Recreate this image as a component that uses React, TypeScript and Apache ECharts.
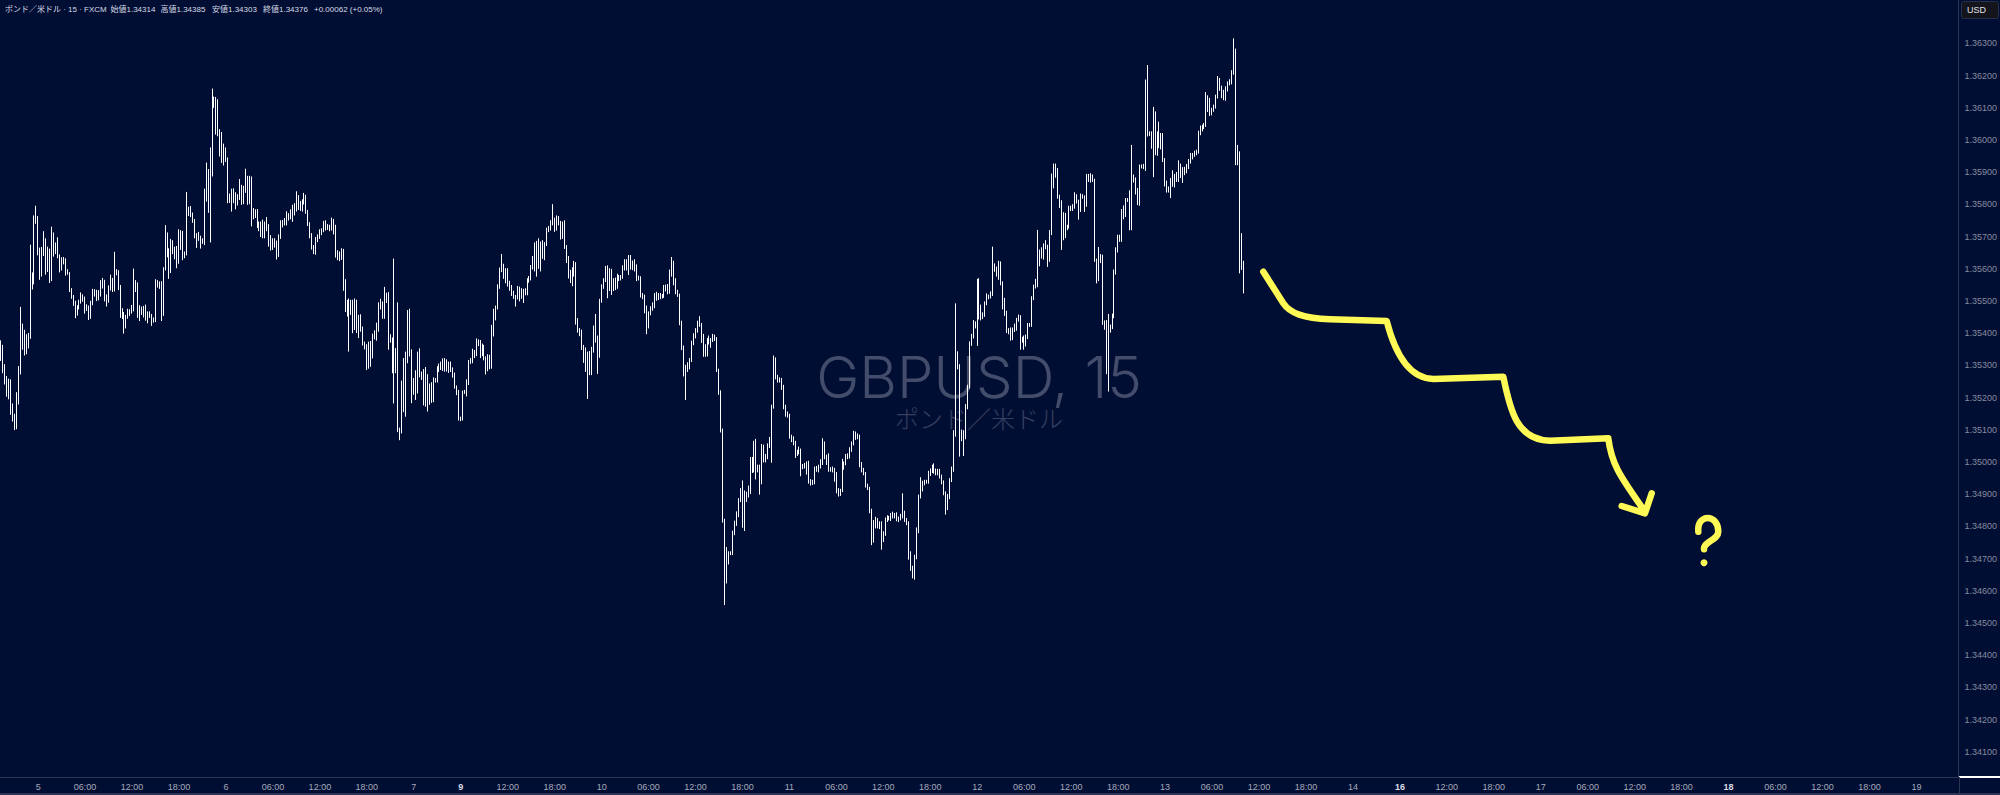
import React, { useEffect, useRef } from "react";
import * as echarts from "echarts";

const BASE_PRICE = 1.34;
const POINT = 0.00001;

const axisDates = ["5","06:00","12:00","18:00","6","06:00","12:00","18:00","7","9","12:00","18:00","10","06:00","12:00","18:00","11","06:00","12:00","18:00","12","06:00","12:00","18:00","13","06:00","12:00","18:00","14","16","12:00","18:00","17","06:00","12:00","18:00","18","06:00","12:00","18:00","19"];
const boldDates = ["9","16","18"];
const priceTicks = ["1.34100","1.34200","1.34300","1.34400","1.34500","1.34600","1.34700","1.34800","1.34900","1.35000","1.35100","1.35200","1.35300","1.35400","1.35500","1.35600","1.35700","1.35800","1.35900","1.36000","1.36100","1.36200","1.36300"];

// Closing prices of each 15-minute bar, in points above 1.34000
const closes = [
1358,1296,1255,1213,1249,1177,1146,1110,1203,1280,1420,1363,1389,1363,1389,1575,1560,1746,1756,1658,
1586,1648,1689,1596,1653,1570,1705,1658,1668,1637,1601,1622,1627,1591,1586,1534,1513,1493,1461,1482,
1498,1513,1508,1477,1482,1451,1493,1524,1529,1508,1524,1549,1560,1513,1503,1539,1560,1534,1591,1588,
1544,1472,1456,1425,1451,1462,1467,1472,1555,1550,1462,1477,1467,1477,1451,1462,1456,1439,1441,1550,
1555,1544,1462,1601,1705,1658,1601,1679,1658,1663,1622,1699,1710,1643,1648,1772,1787,1767,1751,1705,
1705,1699,1689,1684,1829,1870,1782,1927,2129,2124,2067,2020,1989,1943,1969,1938,1824,1819,1808,1824,
1813,1824,1855,1813,1844,1881,1813,1881,1762,1777,1772,1741,1725,1741,1705,1741,1731,1699,1679,1689,
1684,1643,1699,1741,1746,1741,1767,1762,1777,1772,1788,1819,1803,1788,1808,1824,1777,1741,1705,1668,
1658,1689,1699,1715,1720,1741,1725,1731,1725,1741,1731,1643,1648,1632,1658,1560,1472,1498,1467,1498,
1420,1498,1415,1451,1415,1368,1358,1296,1368,1332,1389,1389,1425,1482,1493,1451,1518,1508,1389,1379,
1306,1348,1296,1099,1099,1223,1161,1337,1462,1342,1223,1255,1223,1337,1275,1275,1192,1265,1192,1234,
1192,1255,1255,1286,1296,1306,1291,1311,1291,1306,1286,1270,1234,1218,1135,1135,1218,1218,1249,1311,
1317,1342,1337,1368,1373,1337,1358,1322,1296,1327,1296,1420,1446,1482,1544,1596,1606,1575,1596,1555,
1544,1524,1513,1513,1539,1513,1534,1524,1534,1565,1570,1606,1632,1606,1679,1606,1679,1637,1679,1720,
1725,1741,1751,1725,1756,1741,1699,1741,1668,1632,1586,1591,1586,1617,1441,1410,1399,1358,1348,1286,
1337,1280,1348,1420,1379,1332,1503,1544,1565,1601,1539,1596,1539,1565,1544,1575,1570,1575,1601,1622,
1601,1637,1606,1622,1606,1570,1571,1519,1514,1478,1421,1462,1478,1488,1519,1509,1519,1514,1514,1540,
1545,1529,1586,1617,1565,1529,1519,1431,1358,1296,1286,1302,1317,1369,1390,1410,1431,1426,1390,1333,
1358,1379,1369,1379,1390,1384,1286,1219,1100,820,629,706,717,717,779,810,841,882,913,810,
882,898,913,996,976,1058,976,986,939,1048,1007,1017,1048,1058,1172,1317,1265,1255,1255,1234,
1172,1151,1146,1079,1074,1058,1027,1032,1038,986,986,991,996,939,939,939,976,976,986,1001,
1058,1017,1017,976,976,976,965,913,903,913,996,996,1017,1017,1038,1058,1089,1079,1079,996,
976,965,929,919,851,758,800,820,800,810,758,779,820,825,825,836,831,836,820,825,
831,841,820,810,717,670,665,706,789,893,913,934,939,939,965,970,986,970,965,965,
955,939,903,857,893,944,976,1089,1338,1296,1079,1089,1079,1172,1234,1369,1390,1431,1421,1565,
1483,1452,1457,1493,1514,1514,1524,1607,1597,1586,1617,1555,1504,1462,1405,1410,1385,1410,1416,1442,
1452,1379,1379,1379,1390,1426,1426,1509,1545,1555,1654,1638,1659,1669,1669,1628,1711,1856,1887,1907,
1824,1809,1695,1768,1726,1731,1788,1788,1793,1824,1809,1783,1824,1824,1799,1887,1876,1887,1876,1628,
1602,1638,1638,1436,1421,1281,1410,1421,1457,1592,1659,1700,1690,1762,1773,1814,1814,1726,1887,1876,
1845,1804,1918,1918,1918,2182,2021,2021,1985,2083,1959,2021,1985,2016,1938,1866,1845,1850,1876,1861,
1887,1876,1907,1902,1897,1907,1918,1933,1954,1954,1959,1964,2021,2031,2042,2047,2135,2125,2083,2094,
2104,2135,2187,2161,2150,2130,2161,2176,2181,2207,2280,1928,1959,1690,1617,1602,
];

// Height of each bar's upper wick, in points
const upperWicks = [
20,6,8,12,10,8,5,4,14,18,62,10,22,8,12,100,14,20,40,8,
8,20,28,6,16,10,26,8,14,30,8,14,10,6,8,4,6,6,8,5,
6,14,8,6,8,4,8,14,8,6,10,16,12,6,8,10,22,12,62,8,
8,6,6,10,6,14,8,16,46,10,8,10,6,8,12,6,6,4,8,18,
10,6,18,4,31,8,6,14,10,6,8,24,10,8,6,67,6,8,8,4,
6,10,4,6,20,60,40,50,31,6,10,60,14,36,20,8,8,10,30,26,
14,8,24,6,14,30,8,8,6,12,8,14,6,6,12,6,20,8,6,6,
6,4,8,10,6,12,12,6,8,22,16,22,10,8,8,12,6,6,4,6,
6,10,8,8,6,8,10,8,6,18,14,6,10,6,6,4,8,6,10,6,
6,10,6,6,8,6,6,8,6,8,10,20,8,14,14,6,26,8,20,8,
8,284,6,200,8,30,100,6,10,14,8,6,30,6,16,6,14,30,8,10,
14,8,6,12,10,6,16,12,8,6,6,8,8,4,6,6,4,6,8,6,
6,10,6,16,8,6,10,6,6,8,6,6,30,4,8,8,40,10,6,6,
8,6,8,6,8,6,6,4,6,6,8,6,8,50,8,16,6,10,4,8,
8,10,50,8,10,8,8,6,10,6,8,6,14,8,4,6,6,12,6,8,
6,8,10,4,40,14,4,8,6,8,10,6,4,6,8,10,6,6,10,8,
8,6,6,4,8,8,8,6,6,6,8,6,6,8,6,10,6,6,8,10,
6,8,12,20,8,6,6,4,8,4,6,8,6,8,10,6,8,22,6,8,
8,6,14,6,8,6,4,4,4,4,4,30,6,6,8,8,6,6,6,30,
30,10,14,20,20,8,14,6,6,8,6,8,10,20,6,14,8,6,8,6,
6,6,6,4,6,6,8,6,10,4,8,6,6,8,8,6,10,12,6,8,
16,6,6,10,8,10,6,4,6,4,14,6,8,10,8,6,8,6,10,6,
4,6,4,4,4,4,20,10,6,6,6,6,8,10,8,6,10,6,8,6,
8,62,8,6,6,6,8,6,8,6,40,8,6,6,8,10,6,10,10,14,
14,6,4,6,8,6,10,10,155,6,8,12,10,8,6,6,8,10,6,4,
6,6,8,6,10,6,6,62,10,10,8,6,6,6,8,6,8,8,14,6,
6,4,10,14,6,6,6,6,6,14,67,6,8,10,20,6,10,40,40,20,
6,6,4,8,6,6,8,8,8,14,8,6,10,8,4,8,8,10,6,4,
4,30,8,6,4,20,50,6,4,6,8,6,6,24,24,6,6,30,98,6,
8,6,6,6,8,6,51,6,6,20,6,6,36,6,6,6,8,6,6,30,
8,14,30,20,14,10,8,8,6,6,8,6,8,14,6,6,14,4,6,6,
6,6,12,6,8,6,6,6,8,10,36,4,26,6,21,8,
];

// Depth of each bar's lower wick, in points
const lowerWicks = [
6,20,14,10,18,30,20,10,8,24,8,14,32,28,10,6,24,8,6,16,
20,10,8,14,6,14,8,20,12,4,12,6,8,12,4,6,6,8,14,6,
8,6,10,16,8,10,6,6,10,8,6,10,10,14,20,8,6,6,4,8,
10,24,12,26,10,6,8,6,4,22,14,24,10,18,12,20,8,16,6,6,
8,6,24,8,6,22,32,14,12,28,20,6,40,16,10,6,8,6,8,10,
40,12,26,6,10,20,8,100,40,24,50,8,40,14,22,6,20,14,30,4,
28,16,10,14,12,8,14,12,30,8,14,14,8,26,10,10,14,30,22,20,
18,14,6,6,12,6,6,12,8,26,6,10,20,8,10,8,6,8,10,8,
12,14,6,6,10,6,6,4,8,6,24,8,16,8,4,28,6,20,124,10,
20,10,14,30,10,6,8,10,6,36,10,8,12,20,8,6,6,14,40,8,
30,124,20,6,31,10,6,20,30,14,40,14,30,10,12,20,16,20,35,14,
8,6,8,8,6,10,8,10,10,14,6,8,6,10,6,8,6,6,14,10,
6,10,14,8,8,14,8,6,24,14,8,6,30,6,8,6,6,6,20,10,
12,8,6,30,8,14,6,30,6,16,8,6,8,14,30,6,14,6,10,8,
6,6,6,10,6,6,8,6,6,14,16,30,40,10,14,8,8,10,40,6,
90,10,10,8,8,58,8,8,6,6,30,8,20,8,10,6,8,6,6,6,
6,20,8,10,14,8,6,8,8,16,24,6,6,8,10,8,6,8,6,4,
10,8,6,10,16,8,6,6,10,30,93,6,14,6,6,6,8,6,20,6,
6,30,4,14,6,8,6,10,8,8,73,6,24,6,6,6,8,12,6,14,
24,6,8,12,10,8,30,8,40,8,8,8,8,4,60,6,8,8,8,10,
8,10,8,6,12,6,14,8,8,30,8,6,30,6,12,10,8,6,8,6,
10,8,26,6,6,8,26,10,10,8,6,20,6,8,6,6,6,10,8,12,
8,6,8,6,10,16,8,6,6,8,30,6,8,6,6,8,6,6,4,6,
6,6,6,6,20,8,26,30,8,10,6,4,6,6,6,8,4,6,6,6,
6,8,6,20,6,8,6,6,10,8,62,14,60,8,8,6,8,6,6,60,
40,12,8,6,6,8,6,8,6,10,20,6,30,8,4,8,8,6,6,8,
6,30,8,30,20,8,6,6,6,6,12,30,6,30,8,22,6,6,6,4,
6,20,36,6,30,6,6,8,8,6,6,30,6,6,22,6,6,8,6,6,
47,40,20,10,10,8,62,8,8,10,10,8,6,6,8,12,6,6,6,8,
14,6,8,6,8,14,10,8,12,100,6,8,10,14,6,10,8,8,30,6,
8,6,6,20,30,6,10,8,6,14,6,6,6,6,4,8,6,38,8,6,
6,6,6,8,20,6,8,10,6,8,4,6,6,104,20,78,
];

const FIRST_OPEN = 1320;
const SLOT_COUNT = 1001;
const FIRST_LABEL_SLOT = 19;
const SLOTS_PER_LABEL = 24;

const BG = "#010E34";
const AXIS_LINE = "#2B3553";
const YELLOW = "#FFF955";

const ARROW_PATH =
  "M1263.3 271.7 L1283.3 303.3 C1290 313.3 1303.3 318.3 1330 319.3 L1386.7 321 C1393.3 346.7 1406.7 378.3 1433.3 379 L1503.3 376.7 C1510 410 1516.7 440 1550 440.7 L1608.3 438.3 C1611.7 466.7 1623.3 480 1645 511.7 M1621.7 506 L1645 513.3 L1651.7 493.3";
const QUESTION_PATH =
  "M1698.3 531.7 C1696.7 513.3 1718.3 513.3 1718.3 531.7 C1718.3 540 1703.3 541.7 1704 549.3";

echarts.graphic.registerShape("forecastArrow", echarts.graphic.extendPath(ARROW_PATH, {}));
echarts.graphic.registerShape("forecastQuestion", echarts.graphic.extendPath(QUESTION_PATH, {}));

const price = (points: number) => BASE_PRICE + points * POINT;

function buildCandles() {
  return closes.map((c, i) => {
    const o = i === 0 ? FIRST_OPEN : closes[i - 1];
    const high = Math.max(o, c) + (upperWicks[i] ?? 6);
    const low = Math.min(o, c) - (lowerWicks[i] ?? 6);
    return [price(o), price(c), price(low), price(high)];
  });
}

function buildSlots() {
  const slots: string[] = new Array(SLOT_COUNT).fill("");
  axisDates.forEach((label, k) => {
    slots[FIRST_LABEL_SLOT + k * SLOTS_PER_LABEL] = label;
  });
  return slots;
}

const HEADER_FONT = '8px "Liberation Sans", "Noto Sans CJK JP", sans-serif';
const headerItems: [string, number][] = [
  ["ポンド／米ドル · 15 · FXCM", 5],
  ["始値1.34314", 110.5],
  ["高値1.34385", 160.5],
  ["安値1.34303", 212],
  ["終値1.34376", 263],
  ["+0.00062 (+0.05%)", 314],
];

export default function App() {
  const ref = useRef<HTMLDivElement>(null);

  useEffect(() => {
    document.body.style.margin = "0";
    document.body.style.background = BG;
    const chart = echarts.init(ref.current!, undefined, { renderer: "svg" });
    chart.setOption({
      animation: false,
      backgroundColor: BG,
      grid: { left: 0, right: 41, top: 0, bottom: 18 },
      xAxis: {
        type: "category",
        data: buildSlots(),
        boundaryGap: true,
        axisLine: { show: true, lineStyle: { color: AXIS_LINE, width: 1 } },
        axisTick: { show: false },
        splitLine: { show: false },
        axisLabel: {
          interval: (_: number, v: string) => v !== "",
          margin: 5,
          color: "#A5AAB9",
          fontSize: 9,
          fontFamily: '"Liberation Sans", sans-serif',
          hideOverlap: false,
          formatter: (v: string) => (boldDates.includes(v) ? `{b|${v}}` : v),
          rich: { b: { fontWeight: "bold", color: "#D8DBE4", fontSize: 9, fontFamily: '"Liberation Sans", sans-serif' } },
        },
      },
      yAxis: {
        type: "value",
        position: "right",
        min: 1.34022,
        max: 1.36435,
        axisLine: { show: true, lineStyle: { color: AXIS_LINE, width: 1 } },
        axisTick: { show: false },
        splitLine: { show: false },
        axisLabel: {
          customValues: priceTicks.map(Number),
          formatter: (v: number) => v.toFixed(5),
          margin: 6,
          color: "#868B9E",
          fontSize: 9,
          fontFamily: '"Liberation Sans", sans-serif',
        },
      },
      series: [
        {
          type: "candlestick",
          data: buildCandles(),
          large: false,
          progressive: 0,
          barWidth: 1,
          z: 5,
          itemStyle: {
            color: "#FFFFFF",
            color0: "#FFFFFF",
            borderColor: "#FFFFFF",
            borderColor0: "#FFFFFF",
            borderWidth: 1,
          },
        },
      ],
      graphic: [
        {
          type: "text",
          z: 0,
          silent: true,
          style: {
            text: "GBPUSD, 15",
            x: 979,
            y: 377,
            align: "center",
            verticalAlign: "middle",
            fill: "#434D6B",
            font: '300 58px Inter, "Liberation Sans", sans-serif',
          },
        },
        {
          type: "text",
          z: 0,
          silent: true,
          style: {
            text: "ポンド／米ドル",
            x: 979,
            y: 417,
            align: "center",
            verticalAlign: "middle",
            fill: "#363F5F",
            font: '300 24px "Noto Sans CJK JP", sans-serif',
          },
        },
        ...headerItems.map(([text, x]) => ({
          type: "text",
          silent: true,
          style: { text, x, y: 9, verticalAlign: "middle", fill: "#D8DBE4", font: HEADER_FONT },
        })),
        {
          type: "rect",
          silent: true,
          shape: { x: 1961.5, y: 1.5, width: 37, height: 17, r: 2 },
          style: { fill: "#14141C", stroke: "#25304C", lineWidth: 1 },
        },
        {
          type: "text",
          silent: true,
          style: { text: "USD", x: 1967, y: 10, verticalAlign: "middle", fill: "#E0E3EB", font: '9px "Liberation Sans", sans-serif' },
        },
        { type: "rect", silent: true, shape: { x: 1959, y: 776, width: 41, height: 2 }, style: { fill: "#FFFFFF" } },
        { type: "rect", silent: true, shape: { x: 1959, y: 777, width: 1, height: 18 }, style: { fill: AXIS_LINE } },
        { type: "rect", silent: true, shape: { x: 0, y: 793, width: 2000, height: 2 }, style: { fill: AXIS_LINE } },
        {
          type: "forecastArrow",
          z: 10,
          silent: true,
          style: { fill: "none", stroke: YELLOW, lineWidth: 6.5, lineCap: "round", lineJoin: "round" },
        },
        {
          type: "forecastQuestion",
          z: 10,
          silent: true,
          style: { fill: "none", stroke: YELLOW, lineWidth: 6.5, lineCap: "round", lineJoin: "round" },
        },
        {
          type: "circle",
          z: 10,
          silent: true,
          shape: { cx: 1704, cy: 562.7, r: 3.5 },
          style: { fill: YELLOW },
        },
      ],
    });
    return () => chart.dispose();
  }, []);

  return <div ref={ref} style={{ width: 2000, height: 795 }} />;
}
